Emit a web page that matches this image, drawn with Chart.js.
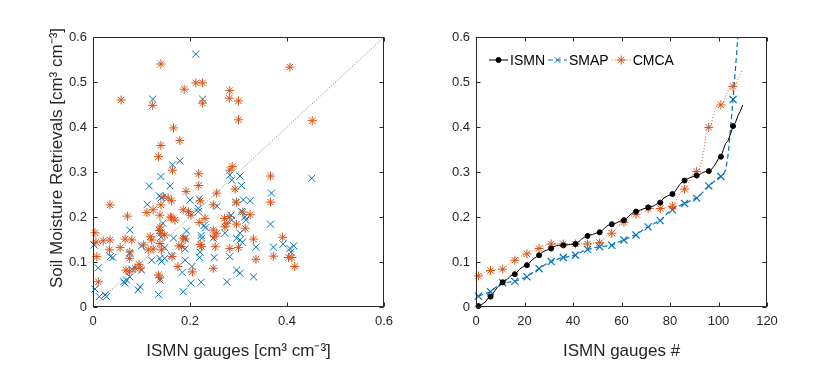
<!DOCTYPE html>
<html>
<head>
<meta charset="utf-8">
<script src="https://cdn.jsdelivr.net/npm/chart.js@4.4.0/dist/chart.umd.min.js"></script>
<style>
  html, body { margin: 0; padding: 0; background: #fff; }
  #wrap { position: relative; width: 830px; height: 372px; }
  canvas { position: absolute; top: 0; }
  #left { left: 0; }
  #right { left: 415px; }
</style>
</head>
<body>
<div id="wrap">
  <canvas id="left" width="415" height="372"></canvas>
  <canvas id="right" width="415" height="372"></canvas>
</div>
<script>
// Scatter: [ISMN, retrieval] pairs
const smapScatter = [
  [0.212,0.562],[0.123,0.462],[0.226,0.462],[0.179,0.325],[0.164,0.316],
  [0.140,0.290],[0.282,0.293],[0.286,0.282],[0.116,0.269],[0.159,0.269],[0.306,0.270],[0.137,0.247],
  [0.141,0.243],[0.200,0.238],[0.219,0.240],[0.112,0.228],[0.256,0.224],[0.294,0.233],[0.310,0.238],
  [0.217,0.219],[0.217,0.212],[0.306,0.212],[0.285,0.204],[0.286,0.193],[0.144,0.186],[0.229,0.181],
  [0.232,0.176],[0.076,0.171],[0.193,0.169],[0.272,0.164],[0.303,0.164],[0.296,0.153],[0.223,0.159],
  [0.190,0.153],[0.166,0.153],[0.140,0.155],[0.224,0.153],[0.248,0.153],[0.303,0.149],[0.308,0.144],
  [0.002,0.138],[0.100,0.136],[0.148,0.132],[0.190,0.129],[0.221,0.122],[0.036,0.112],[0.041,0.110],
  [0.076,0.119],[0.121,0.104],[0.138,0.108],[0.148,0.108],[0.141,0.101],[0.162,0.114],[0.190,0.104],
  [0.220,0.110],[0.250,0.110],[0.282,0.112],[0.204,0.090],[0.011,0.087],[0.080,0.084],[0.100,0.082],
  [0.184,0.077],[0.296,0.082],[0.303,0.075],[0.063,0.056],[0.069,0.060],[0.076,0.067],[0.066,0.053],
  [0.138,0.060],[0.202,0.053],[0.223,0.055],[0.276,0.056],[0.097,0.045],[0.093,0.038],[0.004,0.040],
  [0.186,0.034],[0.135,0.028],[0.013,0.023],[0.025,0.027],[0.028,0.023],
  [0.303,0.291],[0.451,0.286],[0.368,0.253],[0.324,0.236],[0.313,0.200],[0.315,0.193],[0.366,0.184],
  [0.392,0.140],[0.336,0.133],[0.372,0.133],[0.406,0.130],[0.414,0.136],[0.408,0.122],[0.331,0.067]
];
const cmcaScatter = [
  [0.140,0.540],[0.212,0.498],[0.226,0.498],[0.188,0.484],[0.282,0.481],[0.281,0.464],[0.300,0.458],
  [0.058,0.460],[0.123,0.448],[0.226,0.453],[0.300,0.416],[0.166,0.398],[0.179,0.370],[0.140,0.359],
  [0.135,0.334],[0.287,0.312],[0.406,0.533],[0.452,0.414],
  [0.164,0.304],[0.218,0.296],[0.282,0.304],[0.218,0.270],[0.192,0.257],[0.255,0.253],[0.293,0.262],
  [0.145,0.245],[0.155,0.242],[0.162,0.236],[0.221,0.236],[0.035,0.227],[0.140,0.227],[0.248,0.227],
  [0.296,0.233],[0.124,0.216],[0.111,0.210],[0.138,0.204],[0.071,0.202],[0.186,0.216],[0.197,0.212],
  [0.202,0.204],[0.281,0.201],[0.160,0.200],[0.162,0.198],[0.169,0.193],[0.231,0.197],[0.219,0.188],
  [0.271,0.197],[0.276,0.186],[0.272,0.178],[0.296,0.184],[0.004,0.165],[0.138,0.178],[0.137,0.170],
  [0.140,0.164],[0.248,0.171],[0.255,0.164],[0.250,0.156],[0.066,0.151],[0.080,0.149],[0.118,0.156],
  [0.121,0.149],[0.148,0.160],[0.186,0.153],[0.190,0.151],[0.006,0.144],[0.021,0.147],[0.035,0.149],
  [0.056,0.132],[0.138,0.141],[0.104,0.138],[0.114,0.127],[0.124,0.129],[0.141,0.127],[0.177,0.136],
  [0.183,0.134],[0.221,0.139],[0.224,0.134],[0.252,0.134],[0.282,0.130],[0.300,0.132],[0.034,0.127],
  [0.076,0.122],[0.008,0.112],[0.075,0.108],[0.163,0.112],[0.175,0.090],[0.205,0.078],[0.248,0.086],
  [0.095,0.095],[0.087,0.086],[0.097,0.086],[0.068,0.082],[0.075,0.078],[0.135,0.071],[0.138,0.065],
  [0.011,0.056],
  [0.366,0.291],[0.366,0.233],[0.309,0.211],[0.324,0.205],[0.314,0.175],[0.331,0.151],[0.391,0.155],
  [0.372,0.113],[0.403,0.110],[0.410,0.110],[0.336,0.106],[0.416,0.090]
];
const oneToOne = [0, 0.6];

// Sorted series for the right panel (gauge rank 1..n)
const ismnSorted = [
  0.002,0.004,0.008,0.012,0.020,0.023,0.030,0.038,0.045,0.050,
  0.055,0.058,0.062,0.068,0.071,0.073,0.078,0.084,0.088,0.091,
  0.093,0.098,0.104,0.108,0.112,0.115,0.120,0.124,0.126,0.128,
  0.130,0.134,0.136,0.137,0.137,0.137,0.138,0.138,0.139,0.139,
  0.140,0.143,0.148,0.153,0.156,0.158,0.160,0.161,0.163,0.165,
  0.166,0.170,0.175,0.180,0.183,0.184,0.185,0.187,0.190,0.192,
  0.193,0.197,0.202,0.207,0.210,0.212,0.214,0.216,0.218,0.220,
  0.221,0.222,0.224,0.227,0.230,0.232,0.240,0.244,0.247,0.249,
  0.251,0.256,0.264,0.272,0.278,0.281,0.284,0.287,0.289,0.291,
  0.292,0.294,0.297,0.300,0.301,0.302,0.305,0.312,0.320,0.330,
  0.334,0.350,0.364,0.370,0.385,0.402,0.410,0.425,0.435,0.449
];
const smapSorted = [
  0.024,0.026,0.028,0.030,0.032,0.034,0.038,0.043,0.048,0.052,
  0.054,0.055,0.055,0.056,0.056,0.057,0.059,0.061,0.063,0.065,
  0.067,0.071,0.075,0.079,0.082,0.085,0.088,0.092,0.096,0.099,
  0.101,0.103,0.105,0.107,0.109,0.110,0.111,0.112,0.113,0.114,
  0.115,0.118,0.121,0.124,0.126,0.128,0.129,0.130,0.132,0.133,
  0.134,0.135,0.135,0.136,0.137,0.137,0.139,0.142,0.145,0.147,
  0.149,0.151,0.154,0.157,0.159,0.160,0.164,0.168,0.172,0.176,
  0.178,0.181,0.184,0.187,0.190,0.192,0.197,0.203,0.209,0.213,
  0.216,0.219,0.222,0.225,0.228,0.230,0.232,0.235,0.238,0.240,
  0.242,0.246,0.252,0.258,0.264,0.269,0.273,0.278,0.283,0.287,
  0.290,0.295,0.305,0.340,0.400,0.461,0.530,0.600,0.660
];
const cmcaSorted = [
  0.069,0.072,0.075,0.078,0.080,0.081,0.082,0.083,0.083,0.084,
  0.084,0.088,0.093,0.098,0.102,0.104,0.107,0.110,0.114,0.116,
  0.118,0.121,0.124,0.126,0.128,0.130,0.133,0.136,0.138,0.139,
  0.140,0.140,0.140,0.140,0.140,0.140,0.140,0.140,0.140,0.140,
  0.140,0.140,0.140,0.140,0.140,0.140,0.141,0.141,0.142,0.142,
  0.143,0.148,0.154,0.159,0.162,0.164,0.170,0.176,0.182,0.186,
  0.188,0.192,0.197,0.202,0.205,0.206,0.210,0.214,0.217,0.218,
  0.219,0.219,0.219,0.219,0.219,0.219,0.220,0.221,0.222,0.223,
  0.224,0.232,0.242,0.252,0.259,0.262,0.270,0.280,0.290,0.298,
  0.301,0.305,0.320,0.350,0.390,0.399,0.405,0.430,0.445,0.448,
  0.449,0.455,0.470,0.482,0.488,0.490,0.495,0.505,0.518,0.528
];

const leftXTicks = [0, 0.2, 0.4, 0.6];
const yTicks = [0, 0.1, 0.2, 0.3, 0.4, 0.5, 0.6];
const rankTicks = [0, 20, 40, 60, 80, 100, 120];
const legendOrder = ['ISMN', 'SMAP', 'CMCA'];

const FONT = '"Liberation Sans", Arial, Helvetica, sans-serif';
const AXIS = '#262626';
const BLUE = '#0072BD';
const ORANGE = '#D95319';

const toPts = arr => arr.map(p => ({ x: p[0], y: p[1] }));
const toRank = arr => arr.map((v, i) => ({ x: i + 1, y: v }));
const fmt = v => String(+Number(v).toFixed(2));
const setTicks = list => s => { s.ticks = list.map(v => ({ value: v })); };

// box round the axes, with inward ticks on all four sides
const framePlugin = {
  id: 'frame',
  afterDatasetsDraw(chart) {
    const { ctx, chartArea: a, scales } = chart;
    const l = Math.round(a.left) + 0.5, r = Math.round(a.right) - 0.5;
    const t = Math.round(a.top) + 0.5, b = Math.round(a.bottom) - 0.5;
    ctx.save();
    ctx.strokeStyle = AXIS;
    ctx.lineWidth = 1;
    ctx.strokeRect(l, t, r - l, b - t);
    ctx.beginPath();
    scales.x.ticks.forEach(tk => {
      const px = Math.round(scales.x.getPixelForValue(tk.value)) + 0.5;
      ctx.moveTo(px, b); ctx.lineTo(px, b - 4);
      ctx.moveTo(px, t); ctx.lineTo(px, t + 4);
    });
    scales.y.ticks.forEach(tk => {
      const py = Math.round(scales.y.getPixelForValue(tk.value)) + 0.5;
      ctx.moveTo(l, py); ctx.lineTo(l + 4, py);
      ctx.moveTo(r, py); ctx.lineTo(r - 4, py);
    });
    ctx.stroke();
    ctx.restore();
  }
};

// y title of the left panel, placed a little above centre as in the original
const yTitlePlugin = {
  id: 'yTitle',
  afterDraw(chart) {
    const { ctx, chartArea: a } = chart;
    ctx.save();
    ctx.translate(57, (a.top + a.bottom) / 2 - 14);
    ctx.rotate(-Math.PI / 2);
    ctx.font = '17px ' + FONT;
    ctx.fillStyle = AXIS;
    ctx.textAlign = 'center';
    ctx.textBaseline = 'middle';
    ctx.fillText('Soil Moisture Retrievals [cm³ cm⁻³]', 0, 0);
    ctx.restore();
  }
};

const legendPlugin = {
  id: 'inlineLegend',
  afterDraw(chart) {
    const { ctx, chartArea } = chart;
    let x = chartArea.left + 13;
    const y = chartArea.top + 23;
    ctx.save();
    ctx.font = '14px ' + FONT;
    ctx.textBaseline = 'middle';
    legendOrder.forEach(name => {
      const ds = chart.data.datasets.find(d => d.label === name);
      ctx.strokeStyle = ds.borderColor;
      ctx.fillStyle = ds.pointBackgroundColor || ds.borderColor;
      ctx.lineWidth = ds.borderWidth;
      ctx.setLineDash(ds.borderDash || []);
      ctx.beginPath();
      ctx.moveTo(x, y); ctx.lineTo(x + 19, y);
      ctx.stroke();
      ctx.setLineDash([]);
      ctx.lineWidth = 1;
      Chart.helpers.drawPoint(ctx, { pointStyle: ds.pointStyle, radius: ds.legendRadius, borderWidth: 1, rotation: 0 }, x + 9.5, y);
      ctx.fillStyle = '#000';
      ctx.fillText(name, x + 21, y + 1);
      x += 21 + ctx.measureText(name).width + 3;
    });
    ctx.restore();
  }
};

const tickFont = { family: FONT, size: 13 };
const titleFont = { family: FONT, size: 17 };

new Chart(document.getElementById('left'), {
  type: 'scatter',
  data: {
    datasets: [
      { label: '1:1', data: oneToOne.map(v => ({ x: v, y: v })), showLine: true,
        borderColor: 'rgba(70,70,70,0.85)', borderWidth: 0.8, borderDash: [1, 1.6], pointRadius: 0 },
      { label: 'CMCA', data: toPts(cmcaScatter), pointStyle: 'star', pointRadius: 4.5,
        borderColor: ORANGE, backgroundColor: ORANGE, borderWidth: 1, clip: false },
      { label: 'SMAP', data: toPts(smapScatter), pointStyle: 'crossRot', pointRadius: 5,
        borderColor: BLUE, backgroundColor: BLUE, borderWidth: 1, clip: false }
    ]
  },
  options: {
    responsive: false,
    animation: false,
    events: [],
    layout: { padding: { left: 0, right: 31, top: 37, bottom: 0 } },
    plugins: { legend: { display: false }, tooltip: { enabled: false } },
    scales: {
      x: {
        type: 'linear', min: 0, max: 0.6,
        afterBuildTicks: setTicks(leftXTicks),
        afterFit: s => { s.height = 65; },
        grid: { display: false, drawTicks: false },
        border: { display: false },
        ticks: { color: AXIS, font: tickFont, padding: 7, callback: fmt },
        title: { display: true, text: 'ISMN gauges [cm³ cm⁻³]', color: AXIS, font: titleFont,
                 padding: { top: 0, bottom: 10 } }
      },
      y: {
        type: 'linear', min: 0, max: 0.6,
        afterBuildTicks: setTicks(yTicks),
        afterFit: s => { s.width = 93; },
        grid: { display: false, drawTicks: false },
        border: { display: false },
        ticks: { color: AXIS, font: tickFont, padding: 6, callback: fmt },
        title: { display: false }
      }
    }
  },
  plugins: [framePlugin, yTitlePlugin]
});

const everyFifth = r => ctx => (ctx.dataIndex % 5 === 0 ? r : 0);
const edgeClip = { left: 8, top: 0, right: 0, bottom: 8 };

new Chart(document.getElementById('right'), {
  type: 'scatter',
  data: {
    datasets: [
      { label: 'ISMN', data: toRank(ismnSorted), showLine: true, borderColor: '#000', borderWidth: 1,
        pointStyle: 'circle', pointRadius: everyFifth(2.5), legendRadius: 2.5,
        pointBackgroundColor: '#000', pointBorderColor: '#000', clip: edgeClip },
      { label: 'CMCA', data: toRank(cmcaSorted), showLine: true, borderColor: ORANGE, borderWidth: 1,
        borderDash: [1, 2], pointStyle: 'star', pointRadius: everyFifth(4.5), legendRadius: 4.5,
        pointBorderColor: ORANGE, pointBackgroundColor: ORANGE, clip: edgeClip },
      { label: 'SMAP', data: toRank(smapSorted), showLine: true, borderColor: BLUE, borderWidth: 1.2,
        borderDash: [5, 3], pointStyle: 'crossRot', pointRadius: everyFifth(5), legendRadius: 4,
        pointBorderColor: BLUE, pointBackgroundColor: BLUE, clip: edgeClip }
    ]
  },
  options: {
    responsive: false,
    animation: false,
    events: [],
    layout: { padding: { left: 0, right: 63, top: 37, bottom: 0 } },
    plugins: { legend: { display: false }, tooltip: { enabled: false } },
    scales: {
      x: {
        type: 'linear', min: 0, max: 120,
        afterBuildTicks: setTicks(rankTicks),
        afterFit: s => { s.height = 65; },
        grid: { display: false, drawTicks: false },
        border: { display: false },
        ticks: { color: AXIS, font: tickFont, padding: 7 },
        title: { display: true, text: 'ISMN gauges #', color: AXIS, font: titleFont,
                 padding: { top: 0, bottom: 10 } }
      },
      y: {
        type: 'linear', min: 0, max: 0.6,
        afterBuildTicks: setTicks(yTicks),
        afterFit: s => { s.width = 61; },
        grid: { display: false, drawTicks: false },
        border: { display: false },
        ticks: { color: AXIS, font: tickFont, padding: 6, callback: fmt }
      }
    }
  },
  plugins: [framePlugin, legendPlugin]
});
</script>
</body>
</html>
